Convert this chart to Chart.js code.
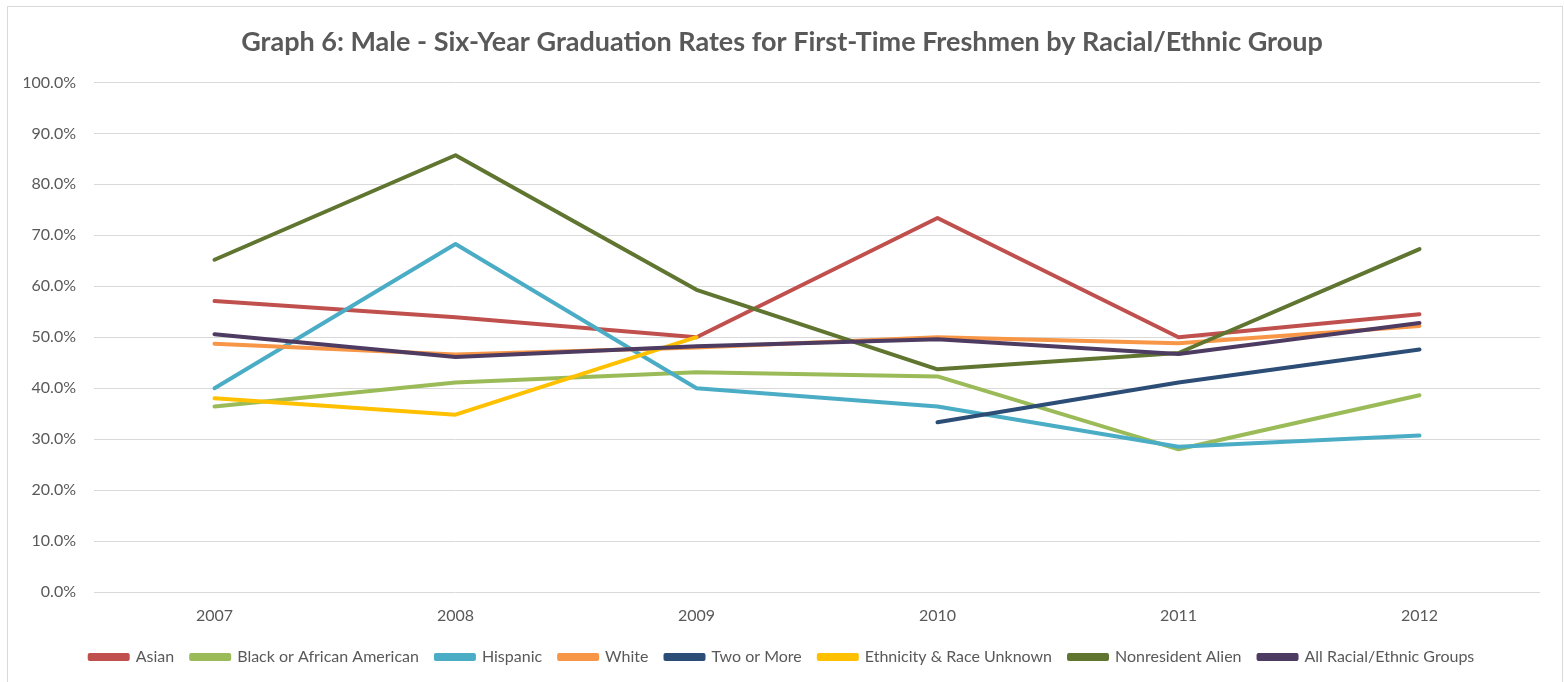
<!DOCTYPE html>
<html>
<head>
<meta charset="utf-8">
<script src="https://cdn.jsdelivr.net/npm/chart.js@4"></script>
<style>
  body{margin:0;background:#fff;overflow:hidden;}
  #frame{position:absolute;left:7px;top:6px;width:1554px;height:700px;border:1px solid #d9d9d9;}
  #wrap{position:absolute;left:0;top:0;width:1564px;height:682px;}
</style>
</head>
<body>
<div id="frame"></div>
<div id="wrap"><canvas id="lineChart" width="1564" height="682"></canvas></div>
<script>
// Data
const years = ['2007','2008','2009','2010','2011','2012'];
const asian = [57.1, 53.9, 50.0, 73.4, 50.0, 54.5];
const black = [36.4, 41.1, 43.1, 42.3, 28.0, 38.6];
const hispanic = [40.0, 68.3, 40.0, 36.4, 28.5, 30.7];
const white = [48.7, 46.6, 48.0, 50.0, 48.8, 52.2];
const twoOrMore = [null, null, null, 33.3, 41.1, 47.6];
const unknown = [38.0, 34.8, 50.0, null, null, null];
const nonresident = [65.2, 85.7, 59.3, 43.7, 46.9, 67.3];
const allGroups = [50.6, 46.1, 48.2, 49.6, 46.7, 52.8];

const names = ['Asian','Black or African American','Hispanic','White','Two or More','Ethnicity & Race Unknown','Nonresident Alien','All Racial/Ethnic Groups'];
const series = [asian, black, hispanic, white, twoOrMore, unknown, nonresident, allGroups];
const colors = ['#C0504D','#9BBB59','#4BACC6','#F79646','#2C4D75','#FFC000','#5F7530','#4D3B62'];

const font = 'Lato, "Open Sans", sans-serif';

new Chart(document.getElementById('lineChart'),{
  type:'line',
  data:{
    labels:years,
    datasets:series.map((d,i)=>({
      label:names[i],
      data:d,
      borderColor:colors[i],
      backgroundColor:colors[i],
      borderWidth:4,
      borderCapStyle:'round',
      borderJoinStyle:'round',
      pointRadius:0,
      tension:0,
      spanGaps:false,
      order:-i
    }))
  },
  options:{
    responsive:false,
    animation:false,
    devicePixelRatio:1,
    layout:{padding:{left:24,right:24,top:0,bottom:7}},
    plugins:{
      title:{
        display:true,
        text:'Graph 6: Male - Six-Year Graduation Rates for First-Time Freshmen by Racial/Ethnic Group',
        color:'#595959',
        font:{family:font,size:27,weight:'bold'},
        padding:{top:26,bottom:24}
      },
      legend:{
        position:'bottom',
        labels:{
          color:'#595959',
          font:{family:font,size:16},
          boxWidth:38,
          boxHeight:4,
          padding:17,
          sort:(a,b)=>a.datasetIndex-b.datasetIndex
        }
      },
      tooltip:{enabled:false}
    },
    scales:{
      x:{
        offset:true,
        grid:{display:false},
        border:{display:false},
        ticks:{color:'#595959',font:{family:font,size:16},padding:6,maxRotation:0},
        afterFit:s=>{s.height=40;}
      },
      y:{
        min:0,max:100,
        grid:{color:'#d9d9d9',lineWidth:1,drawTicks:false},
        border:{display:false},
        ticks:{stepSize:10,color:'#595959',font:{family:font,size:16},padding:18,
          callback:v=>v.toFixed(1)+'%'},
        afterFit:s=>{s.width=70;}
      }
    }
  }
});
</script>
</body>
</html>
